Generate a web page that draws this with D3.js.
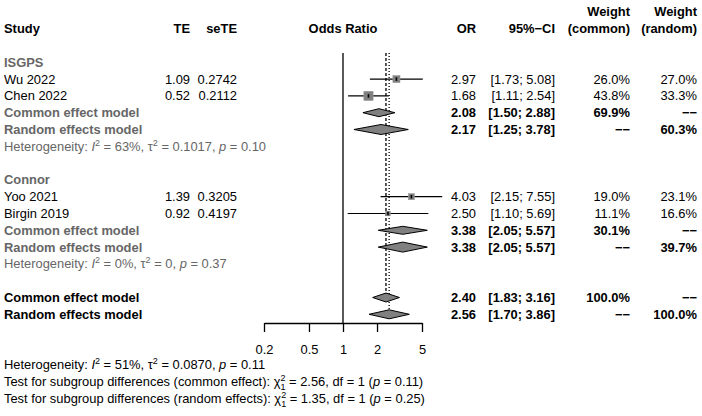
<!DOCTYPE html>
<html><head><meta charset="utf-8">
<script src="https://cdn.jsdelivr.net/npm/d3@7"></script>
<style>
body{margin:0;background:#fff}
text{font-family:"Liberation Sans",Arial,Helvetica,sans-serif;font-size:12.9px}
</style></head>
<body><svg id="c" width="702" height="416"></svg>
<script>
// ---- data ----
const groups = ["ISGPS", "Connor"];
const studies = ["Wu 2022", "Chen 2022", "Yoo 2021", "Birgin 2019"];
const studyGroup = ["ISGPS", "ISGPS", "Connor", "Connor"];
const te = ["1.09", "0.52", "1.39", "0.92"];
const seTE = ["0.2742", "0.2112", "0.3205", "0.4197"];
const orVal = [2.97, 1.68, 4.03, 2.50];
const orLow = [1.73, 1.11, 2.15, 1.10];
const orHigh = [5.08, 2.54, 7.55, 5.69];
const wCommon = [26.0, 43.8, 19.0, 11.1];
const wRandom = [27.0, 33.3, 23.1, 16.6];

const subCommonOR = [2.08, 3.38], subCommonLow = [1.50, 2.05], subCommonHigh = [2.88, 5.57], subCommonW = [69.9, 30.1];
const subRandomOR = [2.17, 3.38], subRandomLow = [1.25, 2.05], subRandomHigh = [3.78, 5.57], subRandomW = [60.3, 39.7];
const subI2 = ["63%", "0%"], subTau2 = ["0.1017", "0"], subP = ["0.10", "0.37"];

const overallCommon = [2.40, 1.83, 3.16], overallRandom = [2.56, 1.70, 3.86];
const overallI2 = "51%", overallTau2 = "0.0870", overallP = "0.11";
const testCommon = ["2.56", "1", "0.11"], testRandom = ["1.35", "1", "0.25"];
const ticks = [0.2, 0.5, 1, 2, 5];

// ---- layout ----
const FS = "12.9px";
const svg = d3.select("#c");
const x = d3.scaleLog().domain([0.2, 5]).range([264, 422]);
const y = d3.scaleLinear().domain([0, 1]).range([62.3, 79.1]);
const fmt2 = d3.format(".2f"), fmtW = d3.format(".1f");
const col = {TE: 190, seTE: 237, OR: 476, CI: 555, wc: 630, wr: 697};
const gray = "#666";
const DASH = "\u2212\u2212";
const sqSide = d3.scaleSqrt().domain([0, 100]).range([0, 14]);

function txt(xp, yp, s, o = {}) {
  return svg.append("text").attr("x", xp).attr("y", yp).attr("dy", "0.35em")
    .attr("text-anchor", o.anchor || "start")
    .attr("font-weight", o.bold ? "bold" : null)
    .attr("fill", o.fill || "#000").text(s);
}
const ci = (l, h) => "[" + fmt2(l) + "; " + fmt2(h) + "]";

// header
txt(4, y(-2), "Study", {bold: 1});
txt(col.TE, y(-2), "TE", {bold: 1, anchor: "end"});
txt(col.seTE, y(-2), "seTE", {bold: 1, anchor: "end"});
txt(x(1), y(-2), "Odds Ratio", {bold: 1, anchor: "middle"});
txt(col.OR, y(-2), "OR", {bold: 1, anchor: "end"});
txt(col.CI, y(-2), "95%\u2212CI", {bold: 1, anchor: "end"});
txt(col.wc, y(-3), "Weight", {bold: 1, anchor: "end"});
txt(col.wc, y(-2), "(common)", {bold: 1, anchor: "end"});
txt(col.wr, y(-3), "Weight", {bold: 1, anchor: "end"});
txt(col.wr, y(-2), "(random)", {bold: 1, anchor: "end"});

// reference lines
const lineTop = 53;
svg.append("line").attr("x1", x(1)).attr("x2", x(1)).attr("y1", lineTop).attr("y2", 323).attr("stroke", "#000").attr("stroke-width", 1.3);
svg.append("line").attr("x1", x(overallCommon[0])).attr("x2", x(overallCommon[0])).attr("y1", lineTop).attr("y2", y(14)).attr("stroke", "#000").attr("stroke-dasharray", "3,2").attr("stroke-width", 1.3);
svg.append("line").attr("x1", x(overallRandom[0])).attr("x2", x(overallRandom[0])).attr("y1", lineTop).attr("y2", y(15)).attr("stroke", "#000").attr("stroke-dasharray", "1,2").attr("stroke-width", 1.3);

function hetText(xp, yp, i2, tau2, p, fill) {
  const t = svg.append("text").attr("x", xp).attr("y", yp).attr("dy", "0.35em").attr("fill", fill);
  t.append("tspan").text("Heterogeneity: ");
  t.append("tspan").attr("font-style", "italic").text("I");
  t.append("tspan").attr("font-size", "9px").attr("dy", -5).text("2");
  t.append("tspan").attr("dy", 5).text(" = " + i2 + ", \u03c4");
  t.append("tspan").attr("font-size", "9px").attr("dy", -5).text("2");
  t.append("tspan").attr("dy", 5).text(" = " + tau2 + ", ");
  t.append("tspan").attr("font-style", "italic").text("p");
  t.append("tspan").text(" = " + p);
}

function diamond(est, lo, hi, yc, h) {
  svg.append("path")
    .attr("d", `M${x(lo)},${yc}L${x(est)},${yc - h}L${x(hi)},${yc}L${x(est)},${yc + h}Z`)
    .attr("fill", "#808080").attr("stroke", "#000").attr("stroke-width", 1);
}

let row = 0;
groups.forEach((g, gi) => {
  txt(4, y(row), g, {bold: 1, fill: gray});
  row++;
  studies.forEach((s, i) => {
    if (studyGroup[i] !== g) return;
    const yc = y(row);
    txt(4, yc, s);
    txt(col.TE, yc, te[i], {anchor: "end"});
    txt(col.seTE, yc, seTE[i], {anchor: "end"});
    txt(col.OR, yc, fmt2(orVal[i]), {anchor: "end"});
    txt(col.CI, yc, ci(orLow[i], orHigh[i]), {anchor: "end"});
    txt(col.wc, yc, fmtW(wCommon[i]) + "%", {anchor: "end"});
    txt(col.wr, yc, fmtW(wRandom[i]) + "%", {anchor: "end"});
    svg.append("line").attr("x1", x(orLow[i])).attr("x2", x(orHigh[i])).attr("y1", yc).attr("y2", yc).attr("stroke", "#000").attr("stroke-width", 1.2);
    const s2 = sqSide(wCommon[i]);
    svg.append("rect").attr("x", x(orVal[i]) - s2 / 2).attr("y", yc - s2 / 2).attr("width", s2).attr("height", s2)
      .attr("fill", "#808080").attr("stroke", "#999").attr("stroke-width", 0.5);
    svg.append("line").attr("x1", x(orVal[i])).attr("x2", x(orVal[i])).attr("y1", yc - 1.8).attr("y2", yc + 1.8).attr("stroke", "#000").attr("stroke-width", 1.6);
    row++;
  });
  let yc = y(row);
  txt(4, yc, "Common effect model", {bold: 1, fill: gray});
  txt(col.OR, yc, fmt2(subCommonOR[gi]), {bold: 1, anchor: "end"});
  txt(col.CI, yc, ci(subCommonLow[gi], subCommonHigh[gi]), {bold: 1, anchor: "end"});
  txt(col.wc, yc, fmtW(subCommonW[gi]) + "%", {bold: 1, anchor: "end"});
  txt(col.wr, yc, DASH, {bold: 1, anchor: "end"});
  diamond(subCommonOR[gi], subCommonLow[gi], subCommonHigh[gi], yc, 4);
  row++;
  yc = y(row);
  txt(4, yc, "Random effects model", {bold: 1, fill: gray});
  txt(col.OR, yc, fmt2(subRandomOR[gi]), {bold: 1, anchor: "end"});
  txt(col.CI, yc, ci(subRandomLow[gi], subRandomHigh[gi]), {bold: 1, anchor: "end"});
  txt(col.wc, yc, DASH, {bold: 1, anchor: "end"});
  txt(col.wr, yc, fmtW(subRandomW[gi]) + "%", {bold: 1, anchor: "end"});
  diamond(subRandomOR[gi], subRandomLow[gi], subRandomHigh[gi], yc, 5);
  row++;
  hetText(4, y(row), subI2[gi], subTau2[gi], subP[gi], gray);
  row += 2;
});

// overall
let yc = y(row);
txt(4, yc, "Common effect model", {bold: 1});
txt(col.OR, yc, fmt2(overallCommon[0]), {bold: 1, anchor: "end"});
txt(col.CI, yc, ci(overallCommon[1], overallCommon[2]), {bold: 1, anchor: "end"});
txt(col.wc, yc, "100.0%", {bold: 1, anchor: "end"});
txt(col.wr, yc, DASH, {bold: 1, anchor: "end"});
diamond(overallCommon[0], overallCommon[1], overallCommon[2], yc, 4.5);
row++;
yc = y(row);
txt(4, yc, "Random effects model", {bold: 1});
txt(col.OR, yc, fmt2(overallRandom[0]), {bold: 1, anchor: "end"});
txt(col.CI, yc, ci(overallRandom[1], overallRandom[2]), {bold: 1, anchor: "end"});
txt(col.wc, yc, DASH, {bold: 1, anchor: "end"});
txt(col.wr, yc, "100.0%", {bold: 1, anchor: "end"});
diamond(overallRandom[0], overallRandom[1], overallRandom[2], yc, 4.5);

// axis
const axisY = 323;
const ax = svg.append("g").attr("transform", `translate(0,${axisY})`)
  .call(d3.axisBottom(x).tickValues(ticks).tickFormat(d3.format("")).tickSize(9).tickSizeOuter(0).tickPadding(13));
ax.select(".domain").attr("stroke", "#000").attr("stroke-width", 1.3);
ax.selectAll(".tick line").attr("stroke", "#000").attr("stroke-width", 1.3);
ax.selectAll(".tick text").style("font-size", FS).attr("fill", "#000").style("font-family", '"Liberation Sans",Arial,sans-serif');

// footer
hetText(4, y(18), overallI2, overallTau2, overallP, "#000");
function testText(yp, label, vals) {
  const t = svg.append("text").attr("x", 4).attr("y", yp).attr("dy", "0.35em");
  t.append("tspan").text("Test for subgroup differences (" + label + "): \u03c7");
  t.append("tspan").attr("font-size", "9px").attr("dy", -5).text("2");
  t.append("tspan").attr("font-size", "9px").attr("dx", -5).attr("dy", 9).text("1");
  t.append("tspan").attr("dy", -4).text(" = " + vals[0] + ", df = " + vals[1] + " (");
  t.append("tspan").attr("font-style", "italic").text("p");
  t.append("tspan").text(" = " + vals[2] + ")");
}
testText(y(19), "common effect", testCommon);
testText(y(20), "random effects", testRandom);
</script></body></html>
